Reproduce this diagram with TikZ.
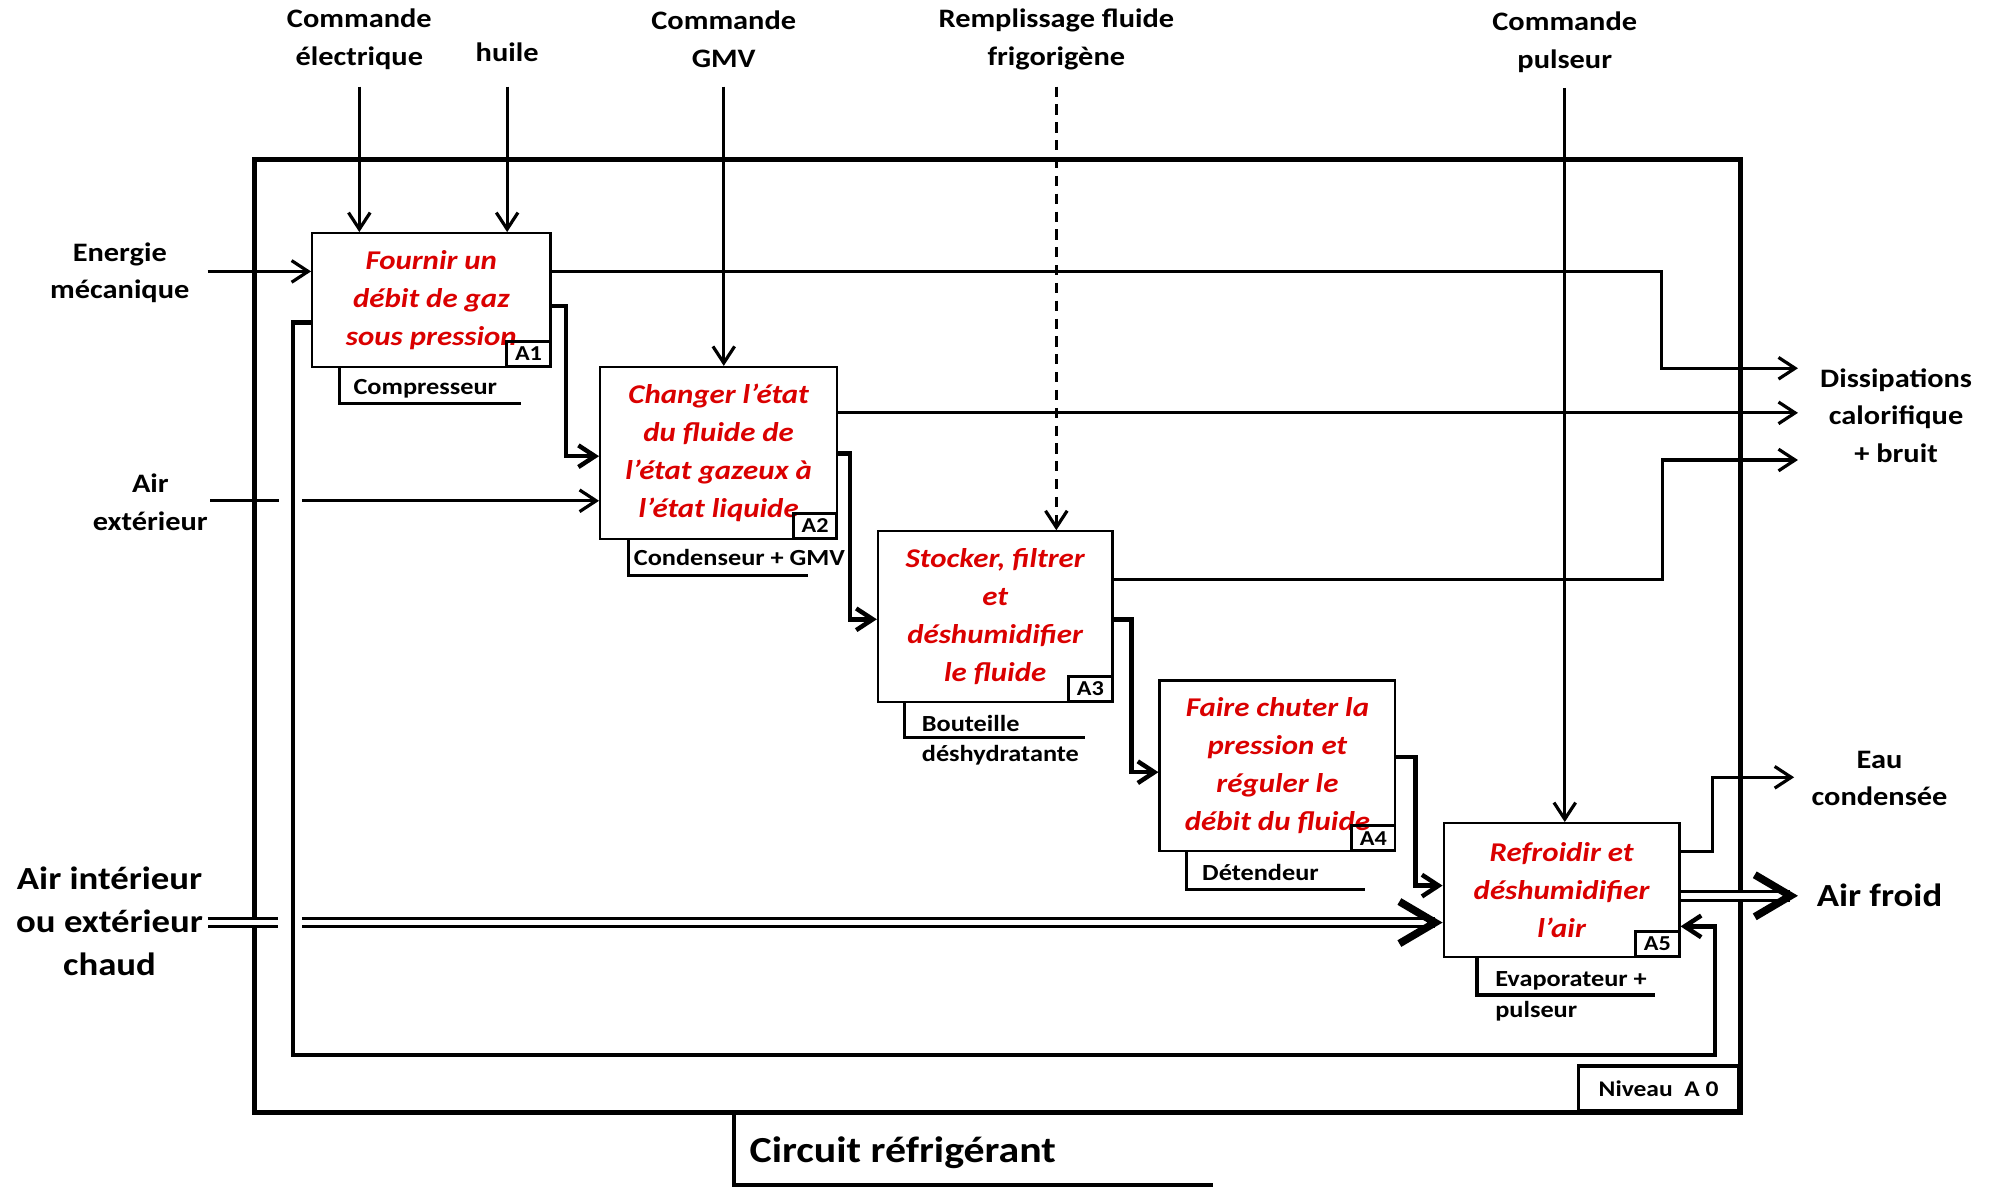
\documentclass[tikz,border=0pt]{standalone}
\usepackage{fontspec}
\setmainfont{Carlito}[FakeStretch=1.14]
\usetikzlibrary{arrows.meta,calc}
\definecolor{fnred}{RGB}{218,0,0}

\begin{document}
\begin{tikzpicture}[x=0.2mm, y=-0.2mm,
    fn/.style={draw, line width=0.35mm, inner sep=0pt, align=center, text=fnred, font=\fontsize{12.1}{17}\selectfont\bfseries\itshape},
    tag/.style={draw, line width=0.45mm, anchor=south east, minimum width=6.8mm, minimum height=4mm, inner sep=0pt, font=\fontsize{9.5}{9.5}\selectfont\bfseries},
    lbl/.style={align=center, inner sep=0pt, font=\fontsize{11.9}{16.8}\selectfont\bfseries},
    big/.style={align=center, inner sep=0pt, font=\fontsize{14.4}{19.3}\selectfont\bfseries},
    mlbl/.style={anchor=west, inner sep=0pt, font=\fontsize{10.3}{14.2}\selectfont\bfseries},
    mech/.style={line width=0.5mm},
    ctl/.style={line width=0.5mm, -{Straight Barb[length=2.6mm, width=3.4mm]}},
    flow/.style={line width=0.7mm, -{Straight Barb[length=2.6mm, width=3.4mm]}},
    dbl/.style={double, line width=0.5mm, double distance=0.85mm},
    bigarr/.style={line width=0.1pt, -{Straight Barb[length=5.6mm, width=6.6mm, line width=1.2mm]}},
    frame/.style={line width=0.75mm}
]
\useasboundingbox (0,0) rectangle (1568,932);

% cadre A0
\draw[frame] (200,125) rectangle (1366,873);
\node[draw, line width=0.55mm, anchor=south east, minimum width=25.2mm, minimum height=7mm, inner sep=0pt, font=\fontsize{10}{10}\selectfont\bfseries] (niv) at (1366,873) {Niveau~~A~0};
\draw[frame, line width=0.6mm] (576,873) -- (576,930) -- (952,930);
\node[anchor=west, inner sep=0pt, font=\fontsize{16.4}{18}\selectfont\bfseries] (circ) at (588,905) {Circuit réfrigérant};

% fonctions
\node[fn, minimum width=37.4mm, minimum height=21mm] (A1) at (338.5,235.5) {Fournir un\\débit de gaz\\sous pression};
\node[fn, minimum width=37.2mm, minimum height=27mm] (A2) at (564,355.5) {Changer l’état\\du fluide de\\l’état gazeux à\\l’état liquide};
\node[fn, minimum width=36.8mm, minimum height=26.8mm] (A3) at (781,484) {Stocker, filtrer\\et\\déshumidifier\\le fluide};
\node[fn, minimum width=37mm, minimum height=26.8mm] (A4) at (1002.5,601) {Faire chuter la\\pression et\\réguler le\\débit du fluide};
\node[fn, minimum width=37mm, minimum height=21mm] (A5) at (1225.5,698.5) {Refroidir et\\déshumidifier\\l’air};
\foreach \i in {1,...,5}
  \node[tag] (t\i) at (A\i.south east) {A\i};

% supports
\draw[mech] ([xshift=4.4mm]A1.south west) -- ++(0,28) -- ++(143,0);
\node[mlbl] (m1) at ([xshift=6.6mm,yshift=-3.2mm]A1.south west) {Compresseur};
\draw[mech] ([xshift=4.6mm]A2.south west) -- ++(0,28) -- ++(141,0);
\node[mlbl] (m2) at ([xshift=5.4mm,yshift=-2.8mm]A2.south west) {Condenseur + GMV};
\draw[mech] ([xshift=4.4mm]A3.south west) -- ++(0,27) -- ++(141,0);
\node[mlbl] (m3a) at ([xshift=7mm,yshift=-3.2mm]A3.south west) {Bouteille};
\node[mlbl] (m3b) at ([xshift=7mm,yshift=-8.2mm]A3.south west) {déshydratante};
\draw[mech] ([xshift=4.4mm]A4.south west) -- ++(0,29) -- ++(140,0);
\node[mlbl] (m4) at ([xshift=6.8mm,yshift=-3.2mm]A4.south west) {Détendeur};
\draw[mech] ([xshift=5.4mm]A5.south west) -- ++(0,29) -- ++(140,0);
\node[mlbl] (m5a) at ([xshift=8.2mm,yshift=-3.6mm]A5.south west) {Evaporateur +};
\node[mlbl] (m5b) at ([xshift=8.2mm,yshift=-8.4mm]A5.south west) {pulseur};

% controles
\node[lbl] (cel) at (282,31) {Commande\\électrique};
\node[lbl] (hui) at (398,41) {huile};
\node[lbl] (cgmv) at (568,31) {Commande\\GMV};
\node[lbl] (remp) at (829,31) {Remplissage fluide\\frigorigène};
\node[lbl] (cpul) at (1228,33) {Commande\\pulseur};
\coordinate (ce) at (282,68);
\coordinate (ch) at (398,68);
\coordinate (cg) at (568,68);
\coordinate (cr) at (829,68);
\coordinate (cp) at (1228,69);
\draw[ctl] (ce) -- (ce |- A1.north);
\draw[ctl] (ch) -- (ch |- A1.north);
\draw[ctl] (cg) -- (cg |- A2.north);
\draw[ctl, dash pattern=on 1.6mm off 1.2mm] (cr) -- (cr |- A3.north);
\draw[ctl] (cp) -- (cp |- A5.north);

% entrees
\node[lbl] (ener) at (94,214) {Energie\\mécanique};
\node[lbl] (aext) at (118,394) {Air\\extérieur};
\node[big] (aint) at (86,723) {Air intérieur\\ou extérieur\\chaud};
\coordinate (ie) at (163,213);
\coordinate (ia) at (165,393);
\coordinate (ii) at (163,724);
\draw[ctl] (ie) -- (ie -| A1.west);
\draw[line width=0.5mm] (ia) -- ++(54,0);
\draw[ctl] (ia) ++(72,0) -- (ia -| A2.west);
\draw[dbl] (ii) -- ++(55,0);
\draw[dbl] (ii) ++(74,0) -- ($(ii -| A5.west)+(-6,0)$);
\draw[bigarr] ($(ii -| A5.west)+(-10,0)$) -- (ii -| A5.west);

% flux du fluide
\draw[flow] (A1.east |- 0,240) -| (444,358) -- (A2.west |- 0,358);
\draw[flow] (A2.east |- 0,356) -| (667,486) -- (A3.west |- 0,486);
\draw[flow] (A3.east |- 0,486) -| (888,606) -- (A4.west |- 0,606);
\draw[flow] (A4.east |- 0,594) -| (1111,695) -- (A5.west |- 0,695);
\draw[flow] (A1.west |- 0,253) -- (230,253) -- (230,828) -- (1346,828) -- (1346,727) -- (A5.east |- 0,727);

% sorties
\node[lbl] (diss) at (1488,326) {Dissipations\\calorifique\\+ bruit};
\node[lbl] (eau) at (1475,611) {Eau\\condensée};
\node[big] (afroid) at (1475,703) {Air froid};
\coordinate (o1) at (1411,289);
\coordinate (o2) at (1411,324);
\coordinate (o3) at (1411,361);
\coordinate (o4) at (1408,610);
\coordinate (of) at (1411,703);
\draw[ctl] (A1.east |- 0,213) -| (1304,289) -- (o1);
\draw[ctl] (A2.east |- o2) -- (o2);
\draw[ctl] (A3.east |- 0,455) -| (1305,361) -- (o3);
\draw[ctl] (A5.east |- 0,668) -| (1344,610) -- (o4);
\draw[dbl] (A5.east |- of) -- ($(of)+(-6,0)$);
\draw[bigarr] ($(of)+(-10,0)$) -- (of);
\end{tikzpicture}
\end{document}
